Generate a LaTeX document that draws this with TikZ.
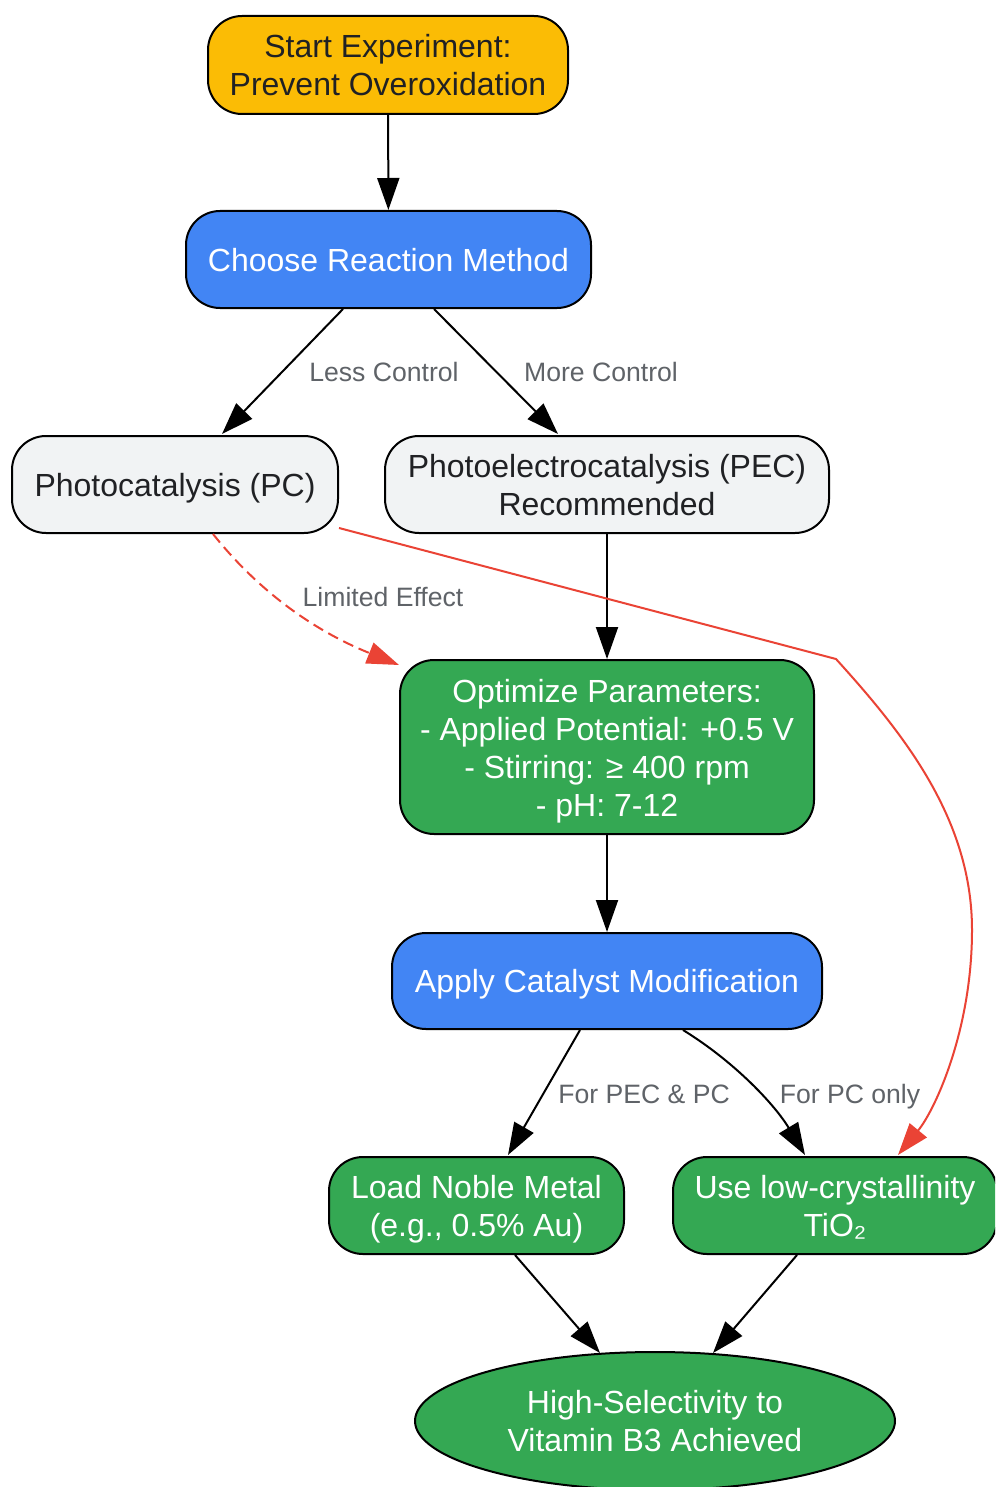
\documentclass[tikz,border=0pt]{standalone}
\usepackage{fontspec}
\setmainfont{Liberation Sans}
\usetikzlibrary{shapes.geometric,arrows.meta,calc}
\definecolor{cyellow}{HTML}{FBBC05}
\definecolor{cblue}{HTML}{4285F4}
\definecolor{cgreen}{HTML}{34A853}
\definecolor{cgray}{HTML}{F1F3F4}
\definecolor{cred}{HTML}{EA4335}
\definecolor{clabel}{HTML}{5F6368}
\definecolor{cdark}{HTML}{202124}
\newcommand\myTopStrut[1]{\rule{0pt}{#1}}
\tikzset{
  box/.style={draw=black, line width=1pt, rounded corners=17pt, inner sep=0pt, align=center,
    font=\fontsize{16}{19}\selectfont},
  oneline/.style={text height=11.5pt, text depth=0pt},
  yellowbox/.style={box, fill=cyellow, text=cdark},
  bluebox/.style={box, fill=cblue, text=white},
  graybox/.style={box, fill=cgray, text=cdark},
  greenbox/.style={box, fill=cgreen, text=white},
  goalshape/.style={ellipse, draw=black, line width=1pt, fill=cgreen, text=white, inner sep=0pt,
    align=center, font=\fontsize{16}{19}\selectfont},
  conn/.style={line width=1pt, -{Triangle[length=16pt,width=11pt]}},
  redconn/.style={conn, draw=cred, line width=1pt},
  elabel/.style={text=clabel, font=\fontsize{13.3}{16}\selectfont, inner sep=0pt, anchor=base},
}
\begin{document}
\begin{tikzpicture}[x=0.5pt,y=-0.5pt]
\clip (0,0) rectangle (995,1487);
\fill[white] (0,0) rectangle (995,1487);

\node[yellowbox, minimum width=180pt, minimum height=49pt] (start) at (388,65) {Start Experiment:\\Prevent Overoxidation};
\node[bluebox, oneline, minimum width=202.5pt, minimum height=48.5pt] (choose) at (388.5,259.5) {Choose Reaction Method};
\node[graybox, oneline, minimum width=163pt, minimum height=48.5pt] (pc) at (175,484.5) {Photocatalysis (PC)};
\node[graybox, minimum width=222pt, minimum height=48.5pt] (pec) at (607,484.5) {\myTopStrut{12.5pt}Photoelectrocatalysis (PEC)\\Recommended};
\node[greenbox, minimum width=207pt, minimum height=87pt] (opt) at (607,747) {\myTopStrut{15.5pt}Optimize Parameters:\\- Applied Potential: +0.5 V\\- Stirring: ≥ 400 rpm\\- pH: 7-12};
\node[bluebox, oneline, minimum width=215pt, minimum height=48pt] (apply) at (607,981) {Apply Catalyst Modification};
\node[greenbox, minimum width=147.5pt, minimum height=48.5pt] (load) at (476.5,1205.5) {\myTopStrut{15.5pt}Load Noble Metal\\(e.g., 0.5\% Au)};
\node[greenbox, minimum width=162pt, minimum height=48.5pt] (use) at (835,1205.5) {\myTopStrut{13.5pt}Use low-crystallinity\\TiO₂};
\node[goalshape, minimum width=240pt, minimum height=69pt] (goal) at (655,1421) {High-Selectivity to\\Vitamin B3 Achieved};

% edges
\draw[conn] (start) -- (choose);
\draw[conn] ($(choose.south)+(-45.5,0)$) -- ($(pc.north)+(47,-1)$);
\draw[conn] ($(choose.south)+(45.5,0)$) -- ($(pec.north)+(-49,-1)$);
\draw[conn] (pec) -- (opt);
\draw[conn] (opt) -- (apply);
\draw[conn] ($(apply.south)+(-27,0)$) -- ($(load.north)+(31.5,-1)$);
\draw[conn] ($(apply.south)+(76,0)$) .. controls (735,1062) and (775,1105) .. ($(use.north)+(-30,-1)$);
\draw[conn] ($(load.south)+(38.5,0)$) -- ($(goal.north)+(-55,2)$);
\draw[conn] ($(use.south)+(-38,0)$) -- ($(goal.north)+(58,2)$);

\draw[redconn, dash pattern=on 5.5pt off 3pt] ($(pc.south)+(38,0)$) .. controls (248,578) and (300,625) .. ($(opt.north west)+(0,6)$);
\coordinate (bend) at (836,659);
\draw[redconn] ($(pc.east)+(0,43.5)$) -- (bend) .. controls (905,735) and (972,820) .. (972,930) .. controls (972,1030) and (935,1110) .. ($(use.north)+(63,-1)$);

% labels
\node[elabel] (l1) at (384,381) {Less Control};
\node[elabel] (l2) at (601,381) {More Control};
\node[elabel] (l3) at (383,606) {Limited Effect};
\node[elabel] (l4) at (644,1103) {For PEC \& PC};
\node[elabel] (l5) at (850,1103) {For PC only};
\end{tikzpicture}
\end{document}
